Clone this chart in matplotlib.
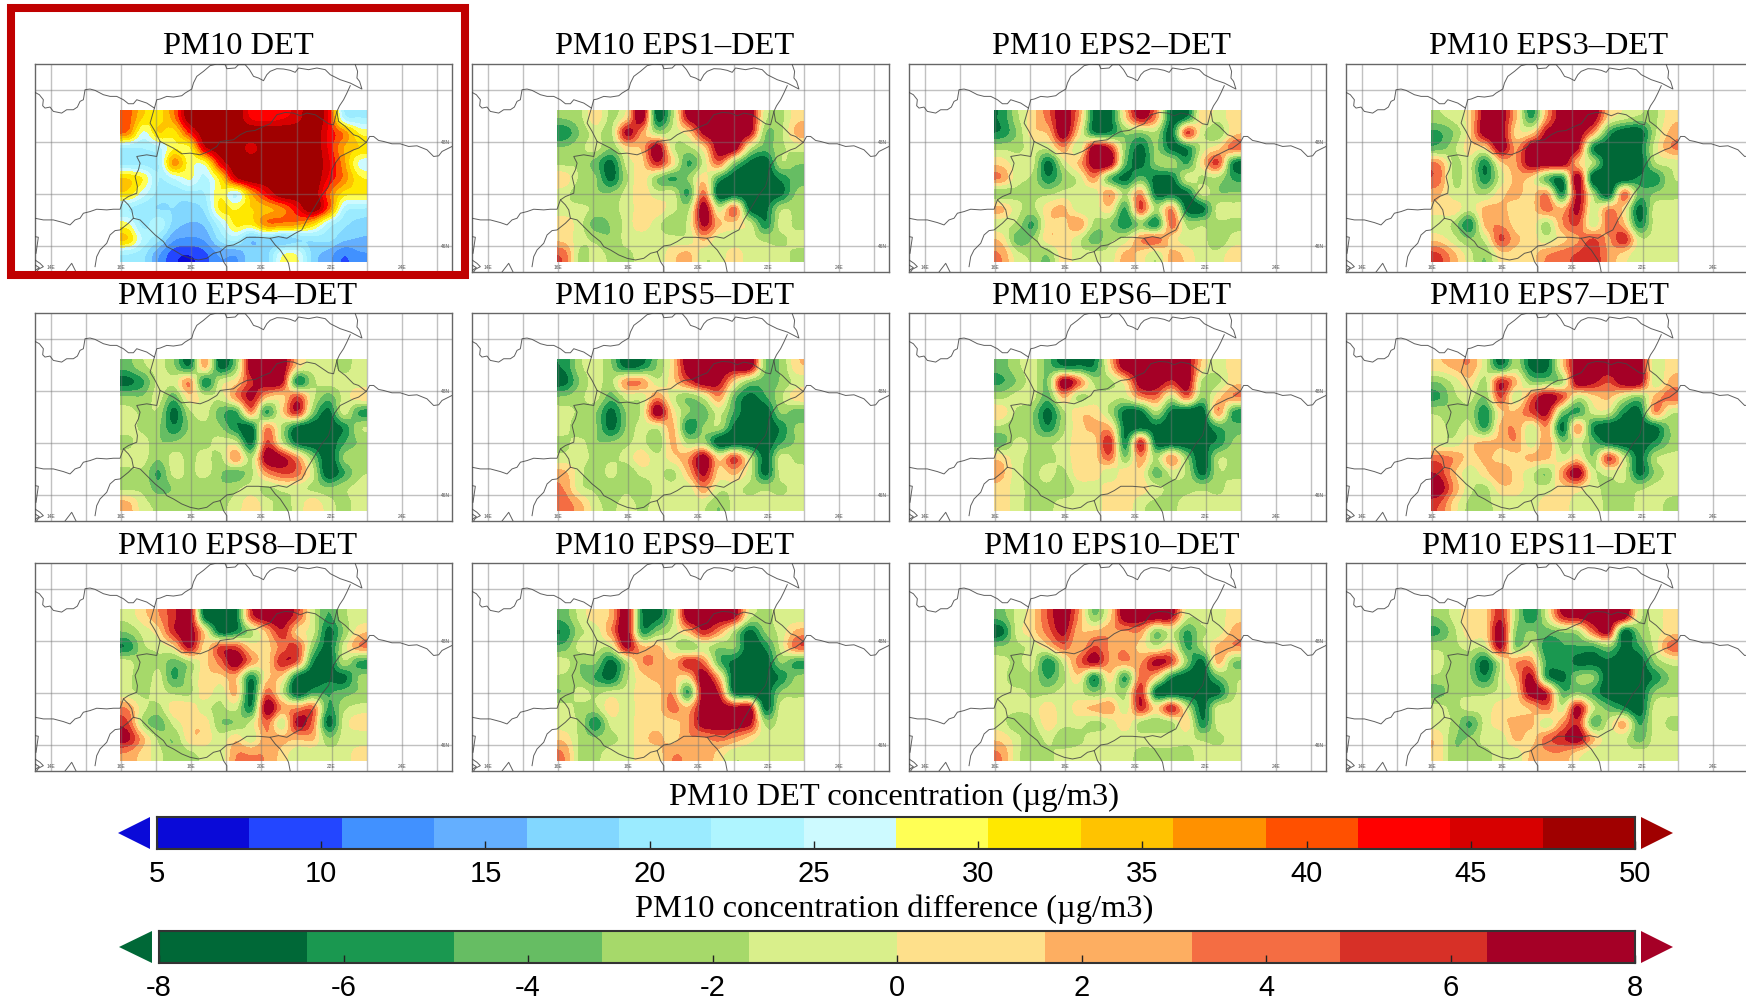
import matplotlib
matplotlib.use("Agg")
import matplotlib.pyplot as plt
import numpy as np
from matplotlib.colors import BoundaryNorm, ListedColormap
from matplotlib.patches import Polygon, Rectangle

plt.rcParams["font.family"] = ["Liberation Serif", "DejaVu Serif"]
plt.rcParams["axes.unicode_minus"] = False

# PM10 DET field, ug/m3, rows north to south
det = [
    [40, 33, 32, 38, 50, 50, 50, 50, 44, 43, 44, 46, 50, 44, 24, 22],
    [38, 27, 33, 32, 42, 50, 50, 50, 50, 50, 50, 50, 50, 44, 38, 30],
    [22, 22, 24, 30, 30, 46, 50, 50, 46, 50, 50, 50, 50, 44, 36, 33],
    [21, 21, 22, 37, 29, 29, 44, 50, 50, 50, 50, 50, 50, 45, 37, 27],
    [33, 30, 22, 25, 28, 24, 32, 46, 50, 50, 50, 50, 50, 44, 38, 31],
    [32, 26, 21, 20, 21, 22, 30, 25, 36, 44, 50, 50, 50, 40, 32, 31],
    [22, 20, 19, 19, 18, 20, 31, 30, 33, 35, 38, 44, 50, 40, 24, 22],
    [28, 21, 24, 18, 16, 17, 24, 31, 31, 38, 38, 37, 33, 24, 20, 18],
    [33, 24, 20, 14, 13, 14, 20, 23, 17, 19, 17, 19, 20, 20, 17, 16],
    [22, 20, 14, 9, 8, 10, 14, 14, 18, 18, 27, 27, 18, 15, 11, 13],
]

# EPS member minus DET, ug/m3
eps1 = [
    [-3, -2, 1, -2, 1, 8, -7, -2, 7, 8, 8, 8, 8, -1, -2, 1],
    [-6, -3, -1, -2, 7, 3, -2, -1, 1, 7, 8, 8, 7, -3, -2, 2],
    [-3, -2, -1, -3, 1, 2, 8, -1, -2, 1, 8, 8, -1, -4, -2, -1],
    [-2, -2, -4, -7, -1, 1, 6, 1, -5, -1, 4, -3, -7, -8, -2, -3],
    [1, -2, -3, -7, -2, 1, -3, -5, -3, 1, -5, -8, -8, -8, -6, -4],
    [-1, -3, -3, -3, -1, 1, -1, -1, -5, 4, -8, -8, -8, -8, -7, -3],
    [-1, -1, -2, -2, -1, 1, 1, -1, -2, 8, -1, 4, -7, -7, -2, -2],
    [1, -1, -4, -3, -1, 1, -1, -3, -1, 7, 2, 1, -1, -6, -1, -2],
    [1, -1, -2, -3, -1, -1, -1, -1, -1, 2, -1, -1, -1, -2, -2, -1],
    [4, -2, -1, -2, -2, -1, -1, 1, 2, -1, -1, 1, -1, -1, -1, -2],
]
eps2 = [
    [-6, -2, 1, 4, 8, 3, -7, -7, 1, 7, 3, -7, -6, 1, -1, 1],
    [-6, -3, 1, 2, 8, 1, -6, -6, -3, -3, -2, -7, 5, -1, -3, 1],
    [-2, -2, -1, -1, 3, -1, 8, 6, -3, -7, -3, -7, -6, -1, 1, 4],
    [1, -1, -1, -7, -1, 2, 8, 8, -4, -7, -3, -2, -5, 1, 5, -6],
    [3, -1, -2, -6, -3, -1, 3, -4, -7, -4, -7, -7, -1, -2, -2, -5],
    [-3, -2, -2, -2, -1, -1, -1, 3, -2, 3, -7, -7, -7, -1, -3, -3],
    [2, -1, -2, 1, 2, -1, -1, 1, -5, 5, -2, 3, -7, -7, -1, -1],
    [-1, -2, -5, 1, 1, 3, -2, -3, -6, -3, -6, 4, -2, -2, -2, -2],
    [1, -4, -3, 1, 1, -1, -4, -2, -1, 3, 4, 1, -1, -1, -3, -1],
    [3, -1, -2, -3, 1, -1, -1, -1, 2, 1, -1, 2, 1, -1, -1, 1],
]
eps3 = [
    [-2, -1, 1, 8, 8, 2, -5, 3, 8, 8, 8, 1, -1, -2, -2, 1],
    [-5, -3, 1, 8, 8, 1, 1, 7, 8, 8, 3, -5, -8, -8, -2, 2],
    [-4, -2, 1, 1, 8, 3, 8, 8, 8, 7, -6, -8, -8, -7, -1, 3],
    [3, -2, -1, -6, 1, 3, 8, 8, 8, 2, -2, -8, -8, -8, -2, -1],
    [4, -2, -1, -6, -1, 2, 1, -4, -6, 8, -8, -8, -8, -6, -6, -2],
    [2, -1, -1, -2, 1, 2, 1, 3, -6, 7, -2, -8, 4, -4, -3, -2],
    [1, 1, -1, 2, 2, 1, 1, 4, 2, 7, -1, 3, 1, -7, -1, -1],
    [-1, -2, -6, 2, 3, 1, 1, -2, 3, 5, -1, 4, 2, -6, -1, -1],
    [1, -1, -3, -1, 5, 2, 1, -1, 1, 3, 5, 3, 6, -1, -1, -1],
    [5, 2, -1, -3, 1, 1, 1, 3, 4, 5, 6, 3, 1, -1, -1, -1],
]
eps4 = [
    [-4, -2, -1, -3, -6, 2, -7, -3, 8, 8, 8, 1, -1, -1, -2, -1],
    [-7, -5, -1, -1, 3, -6, -1, 1, 6, 8, 7, -6, -2, -1, -1, -1],
    [-3, -3, -1, -4, 1, -1, -1, 3, 7, 2, 1, 5, -1, -4, -1, 1],
    [-1, -2, -2, -7, -2, -1, -4, -5, 3, -5, 1, 6, -3, -7, -1, -5],
    [-1, -2, -3, -6, -3, -2, -3, -6, -7, 3, -2, -7, -8, -8, -6, -2],
    [-2, -1, -3, -3, -2, -2, -1, -1, -7, 5, -1, -7, -8, -8, -5, -3],
    [-1, -1, -3, -1, -2, -1, -2, 3, -2, 8, 7, 3, -3, -8, -3, -2],
    [-2, -2, -5, -1, -2, -1, -3, -4, -2, 3, 5, 4, -1, -8, -5, -2],
    [-2, -2, -4, -3, -2, -3, -3, -2, -1, -2, -1, -1, -2, -3, -2, -1],
    [2, -1, -2, -2, -2, -2, -2, -1, 1, -1, -2, -1, 1, -1, -2, -1],
]
eps5 = [
    [-6, -2, -1, -3, -7, -6, -3, 1, 8, 8, 8, 8, 8, -3, -3, 1],
    [-7, -3, -1, -2, 3, 3, -1, 1, 5, 8, 7, 1, -3, -4, -3, -1],
    [-3, -2, -1, -4, -1, -1, 3, -1, -3, -1, 3, -4, -7, -5, -2, 1],
    [-1, -2, -3, -7, -3, -1, 8, 1, -3, -4, -1, -5, -8, -8, -3, -4],
    [-1, -3, -3, -7, -3, -1, -1, 2, -6, -3, -2, -7, -8, -8, -6, -3],
    [-2, -1, -3, -3, -2, -1, -3, 2, -2, -2, -8, -8, -8, -8, -5, -3],
    [-1, -1, -2, -2, -1, 1, -1, 1, 3, 8, 1, 5, -1, -7, -1, -2],
    [2, -1, -3, -1, -3, -1, -1, -2, 2, 7, 1, 2, -1, -7, -1, -1],
    [3, -1, -2, -3, -2, -3, -1, -1, -1, 3, -1, -1, -2, -2, -2, -1],
    [4, 2, -1, -2, -1, -2, -1, -1, -1, -1, -3, -1, -1, -1, -1, -1],
]
eps6 = [
    [-4, -2, -1, -4, -6, -6, -6, 1, 8, 8, 8, 8, 8, 1, -1, 1],
    [-5, -3, -1, -3, 8, 4, -2, -2, 1, 8, 8, 6, 8, -2, -2, 1],
    [-2, -1, -1, -4, 2, -2, -1, -1, -1, 3, 4, -1, 4, -3, 1, 3],
    [1, -2, -3, -7, -2, 1, 1, -2, -7, -7, -2, -7, -8, -8, 3, -5],
    [-2, -3, -3, -6, -2, 1, 2, 2, -7, -7, -7, -8, -8, -8, -5, -4],
    [-4, -1, -2, -2, -1, 1, 1, 6, -6, 6, -7, -8, -8, -7, -6, -3],
    [1, -1, -2, -2, -1, 1, 1, 4, -3, 3, -2, 3, -3, -8, -2, -2],
    [2, -1, -2, -1, -2, 1, 1, -1, 1, 1, -4, -1, -2, -7, -2, -2],
    [1, -1, -2, -2, -3, -1, -1, 1, 1, 1, -1, -2, -2, -2, -2, -1],
    [1, -1, -2, -2, -1, -1, -1, 1, 1, -1, -2, -2, -1, -1, -1, -1],
]
eps7 = [
    [1, 2, 3, -1, -6, -2, -7, -7, 1, 8, 8, 8, 8, 8, -1, 1],
    [-3, -1, 1, -2, 6, 2, -3, -3, -2, 8, 7, 5, 8, 8, -1, 2],
    [-5, -2, -1, -3, 5, -1, 4, 8, 5, -1, 1, 2, -1, -3, 2, 4],
    [-2, -3, -2, -6, 1, 2, 5, 7, -3, -5, -1, -1, -6, -7, 3, -1],
    [-1, -2, -1, -5, 2, 3, -1, 3, -7, 3, -6, -8, -8, -8, -7, -3],
    [-1, -1, 1, 2, 2, 3, -1, 3, -3, -1, -4, -7, -8, -8, -6, -3],
    [4, 3, 1, 2, 1, 1, 2, 2, -1, 1, -3, 5, -1, -7, -2, -1],
    [6, 2, -1, 1, 3, 1, -1, -3, 3, 8, -1, -1, -1, -7, -3, -1],
    [8, 3, -1, -2, 1, 1, -1, -1, 1, 1, -1, -2, -2, -2, -1, -1],
    [5, 1, -2, -2, -1, -1, -1, 1, 1, -1, -1, -2, -3, -1, -1, -2],
]
eps8 = [
    [-1, 1, 3, 6, 8, -7, -8, -7, 5, 8, 8, 5, -1, -5, -2, -1],
    [-3, -1, 1, 6, 8, 1, -7, -6, -2, 2, 6, 1, -1, -7, -3, 1],
    [-6, -2, -1, 1, 7, 1, 5, 5, 1, 1, 4, 5, -3, -7, -1, 3],
    [-1, -3, -2, -4, -2, 1, 4, 8, 3, 1, 6, 4, -6, -8, -2, -5],
    [-1, -3, -1, -5, -2, 1, 1, 2, -6, 1, 1, -7, -8, -7, -7, -3],
    [-1, -2, -1, -2, -2, 1, -1, 2, -7, 4, -1, -8, -5, -5, -4, -3],
    [3, -1, -2, 1, 1, -1, -2, -1, -6, 8, 3, 3, 4, -5, -2, -1],
    [5, -2, -4, -1, 1, 1, -3, -3, -1, 4, -1, 7, 4, -7, -1, 1],
    [7, 2, -2, -3, 1, 1, -1, 1, -1, 3, 2, 2, 2, -3, -1, -1],
    [3, 1, -1, -3, -2, -1, -1, 3, 3, 3, 1, -1, -1, -1, -1, 1],
]
eps9 = [
    [-4, -1, 1, 2, 8, -6, -7, -2, 8, 8, 8, 7, -1, -2, -1, -1],
    [-6, -2, -1, 3, 8, -5, -3, -1, 2, 6, 3, -2, -7, -3, -1, 2],
    [-4, -1, -1, -1, 7, 2, 2, -1, -3, -1, -3, -3, -8, -6, -1, 4],
    [-1, -3, -3, -7, -2, 3, 3, 2, 6, 4, -4, -7, -8, -8, -3, -5],
    [-2, -3, -5, -7, -2, 1, 2, 2, 1, 8, 2, -8, -8, -8, -6, -3],
    [-3, -1, -2, -1, -1, 1, 1, 3, -5, 8, 6, -7, -8, -8, -3, -2],
    [-1, -2, -2, 1, -1, 1, 1, 4, 2, 8, 8, 7, 7, -7, -1, -1],
    [-1, -2, -6, -1, -1, 1, 1, 1, 3, 8, 8, 8, 7, -2, -1, -1],
    [1, -2, -3, -2, -1, 1, 2, 1, 3, 3, 4, 3, 1, -1, -1, -1],
    [3, -2, -2, -1, -1, 1, 1, 3, 3, 3, 1, -1, -1, -1, -1, -1],
]
eps10 = [
    [-4, -1, 1, 5, 8, 3, -3, 1, 8, 8, 8, 7, -1, -1, -1, 1],
    [-7, -1, 1, 4, 7, 2, 2, 3, 3, 3, -3, -1, -5, -2, -1, 2],
    [-3, -2, -1, 1, 4, 2, 5, 3, 3, 1, -1, 1, -5, -2, 2, 3],
    [-1, -2, -1, -6, -1, 4, 7, 3, 3, 3, 7, 5, -3, -7, 2, -3],
    [-1, -3, -2, -5, -2, 1, -6, 1, -5, 4, 1, -6, -8, -8, -4, -2],
    [-1, -1, -2, -2, -1, -1, -3, -1, -2, 6, -7, -8, -8, -7, -7, -2],
    [-1, -1, -1, 1, -1, 1, 2, 3, -1, 6, 1, 6, -1, -7, -1, -1],
    [-1, -3, -2, 1, -1, -1, -2, -1, 1, -2, -3, -2, 1, -6, -1, -1],
    [1, -1, -3, -1, -3, -2, -1, -1, -1, -1, -1, -1, -1, -2, -2, -1],
    [3, -1, -3, -2, -1, -1, -1, -1, -1, -2, -2, -2, -2, -1, -1, -1],
]
eps11 = [
    [-3, -1, 1, 1, 6, -2, -6, -1, 6, 7, 8, 8, 8, -1, -1, 1],
    [-5, -2, 1, 1, 8, -3, -3, -4, -3, -2, 4, 7, -7, -3, -1, 1],
    [-2, -2, -1, -1, 7, -3, -1, -6, -5, -5, -5, -3, -7, -5, -1, 4],
    [-1, -3, -3, -7, -1, 3, 3, -5, -5, -7, -7, -7, -8, -8, -3, -1],
    [-2, -3, -3, -6, -1, 2, 7, -5, -7, -3, -3, -8, -8, -8, -6, -3],
    [-4, -2, -2, -2, -1, 1, 8, 6, -4, -3, -5, -8, -8, -8, -3, -2],
    [-1, -2, -1, -1, 1, 1, 2, 4, -1, 7, -1, -4, -6, -8, -1, -1],
    [-1, -2, -5, -1, 1, 2, 2, -1, 3, 6, -4, -1, 2, -5, -1, -2],
    [1, -3, -3, -1, -1, 2, 1, 4, 6, 8, 2, -1, -1, -4, -1, -1],
    [1, -3, -2, -2, -1, -1, 2, 3, 3, 1, -1, -1, -1, -1, -1, -1],
]

titles = ["PM10 DET", "PM10 EPS1–DET", "PM10 EPS2–DET", "PM10 EPS3–DET",
          "PM10 EPS4–DET", "PM10 EPS5–DET", "PM10 EPS6–DET", "PM10 EPS7–DET",
          "PM10 EPS8–DET", "PM10 EPS9–DET", "PM10 EPS10–DET", "PM10 EPS11–DET"]
fields = [det, eps1, eps2, eps3, eps4, eps5, eps6, eps7, eps8, eps9, eps10, eps11]

det_levels = np.linspace(5, 50, 17)
diff_levels = np.linspace(-8, 8, 11)
det_colors = ["#0a0ad8", "#2346ff", "#4191ff", "#64afff", "#82d7ff", "#9bebff",
              "#aff5ff", "#cdfaff", "#ffff55", "#ffe800", "#ffc300", "#ff9100",
              "#ff5000", "#ff0000", "#d70000", "#a00000"]
diff_colors = ["#006837", "#1a9850", "#66bd63", "#a6d96a", "#d9ef8b",
               "#fee08b", "#fdae61", "#f46d43", "#d73027", "#a50026"]
det_ticks = [5, 10, 15, 20, 25, 30, 35, 40, 45, 50]
diff_ticks = [-8, -6, -4, -2, 0, 2, 4, 6, 8]

# map outlines, in the coordinates of one panel
borders = [
    [(105, 278), (118, 285), (130, 300), (128, 318), (135, 325), (150, 322), (160, 335), (185, 340),
     (200, 330), (220, 330), (232, 322), (240, 305), (250, 300), (255, 270), (270, 268), (285, 272),
     (310, 285), (330, 290), (350, 290), (370, 300), (385, 312), (400, 312), (410, 300), (440, 310),
     (463, 325), (470, 300), (480, 298), (500, 290), (520, 292), (545, 288), (555, 280), (575, 268),
     (580, 250), (590, 230), (610, 215), (630, 198), (650, 193), (675, 195), (680, 207), (705, 205),
     (715, 195), (735, 195), (748, 210), (760, 230), (775, 235), (790, 243), (800, 225), (810, 215),
     (830, 207), (850, 208), (870, 212), (885, 218), (895, 205), (925, 210), (950, 205), (975, 210),
     (990, 225), (1000, 230), (1020, 240), (1050, 250), (1085, 268), (1078, 245), (1070, 235), (1072, 215), (1065, 195)],
    [(1050, 258), (1040, 280), (1030, 300), (1018, 318), (1010, 335), (1015, 365), (1035, 380), (1050, 395),
     (1060, 405), (1075, 410), (1098, 428), (1108, 410), (1120, 410), (1135, 422), (1150, 425), (1175, 432),
     (1200, 432), (1225, 440), (1250, 438), (1280, 450), (1300, 470), (1315, 468), (1325, 455), (1355, 440)],
    [(463, 325), (450, 370), (465, 395), (480, 425), (500, 435), (520, 445), (545, 462), (570, 460), (600, 465),
     (625, 455), (650, 440), (660, 425), (700, 420), (720, 405), (740, 395), (765, 392), (790, 380), (810, 372),
     (830, 345), (855, 338), (880, 340), (900, 348), (920, 340), (945, 345), (960, 355), (985, 372), (1000, 375), (1010, 335)],
    [(1098, 428), (1075, 445), (1060, 450), (1040, 460), (1020, 470), (1005, 490), (995, 510), (992, 535),
     (985, 560), (965, 585), (950, 610), (935, 635), (920, 660), (905, 690), (885, 700), (860, 715), (835, 710),
     (810, 715), (775, 712), (740, 712), (720, 725), (700, 735), (680, 738), (660, 755), (640, 760), (620, 775),
     (595, 780), (570, 775), (545, 765), (520, 750), (500, 740), (490, 725), (465, 705), (440, 680), (420, 660),
     (400, 655), (385, 670), (360, 690), (345, 692), (330, 705), (320, 730), (300, 750), (290, 770), (285, 800)],
    [(480, 425), (470, 470), (440, 465), (410, 470), (420, 490), (415, 510), (405, 530), (412, 560), (410, 580),
     (385, 590), (370, 600), (385, 615), (395, 630), (400, 655)],
    [(370, 600), (360, 628), (340, 628), (320, 630), (290, 628), (270, 635), (250, 640), (240, 655), (225, 660),
     (210, 675), (190, 668), (160, 660), (130, 660), (105, 655)],
    [(660, 755), (670, 785), (680, 800), (680, 816)],
    [(810, 715), (825, 735), (840, 750), (860, 780), (865, 790), (870, 816)],
    [(105, 780), (120, 790), (130, 800), (115, 808), (110, 816)],
    [(105, 795), (118, 803), (105, 812)],
    [(195, 816), (215, 790), (228, 816)],
    [(105, 710), (115, 712), (108, 760)],
]
grid_x = [152, 257, 362, 467, 572, 677, 783, 889, 994, 1099, 1205, 1310]
grid_y = [270, 427, 582, 738]
lon_ticks = [152, 362, 572, 783, 994, 1205]
lon_labels = ["14E", "16E", "18E", "20E", "22E", "24E"]
lat_ticks = [428, 740]
lat_labels = ["48N", "46N"]

W, H = 1746, 1001
fig = plt.figure(figsize=(W / 100, H / 100), dpi=100)


def px_axes(left, top, right, bottom):
    return fig.add_axes([left / W, 1 - bottom / H, (right - left) / W, (bottom - top) / H])


panel_left = [35, 472, 909, 1346]
panel_top = [64, 313, 563]
title_y = [47, 297, 547]
det_cmap = ListedColormap(det_colors)
diff_cmap = ListedColormap(diff_colors)

overlay = fig.add_axes([0, 0, 1, 1], zorder=10)
overlay.set_xlim(0, W)
overlay.set_ylim(H, 0)
overlay.axis("off")

for i, field in enumerate(fields):
    row, col = divmod(i, 4)
    left = panel_left[col]
    top = panel_top[row]
    ax = px_axes(left, top, left + 417, top + 208)
    if i == 0:
        cmap, levels = det_cmap, det_levels
    else:
        cmap, levels = diff_cmap, diff_levels
    ax.imshow(np.array(field, dtype=float), extent=(360, 1098, 785, 332), aspect="auto",
              cmap=cmap, norm=BoundaryNorm(levels, cmap.N, clip=True),
              interpolation="catrom", interpolation_stage="data", zorder=1)
    for x in grid_x:
        ax.axvline(x, color="#777777", alpha=0.45, lw=1.0, zorder=2)
    for y in grid_y:
        ax.axhline(y, color="#777777", alpha=0.45, lw=1.0, zorder=2)
    for line in borders:
        xs, ys = zip(*line)
        ax.plot(xs, ys, color="#444444", lw=0.7, alpha=0.85, zorder=3)
    for x, label in zip(lon_ticks, lon_labels):
        ax.text(x, 802, label, fontsize=3.5, color="#555555", ha="center", va="center",
                family=["Liberation Sans"])
    # the last column runs off the page, its latitude labels with it
    if col < 3:
        for y, label in zip(lat_ticks, lat_labels):
            ax.text(1335, y, label, fontsize=3.5, color="#555555", ha="center", va="center",
                    family=["Liberation Sans"])
    ax.set_xlim(105, 1355)
    ax.set_ylim(816, 193)
    ax.set_xticks([])
    ax.set_yticks([])
    for spine in ax.spines.values():
        spine.set_color("#666666")
        spine.set_linewidth(1.0)
    overlay.text(left + 203, title_y[row], titles[i], fontsize=23.4, color="black",
                 ha="center", va="center")

# frame round the DET panel
overlay.add_patch(Rectangle((11, 8), 454, 267, fill=False, edgecolor="#c00000", lw=5.8))


def draw_bar(left, top, bottom, levels, colors, ticks, tip_left, base_left):
    right = 1635
    ax = px_axes(left, top, right, bottom)
    cmap = ListedColormap(colors)
    ax.pcolormesh(levels, [0, 1], np.array([(levels[:-1] + levels[1:]) / 2]), cmap=cmap,
                  norm=BoundaryNorm(levels, cmap.N))
    ax.set_xlim(levels[0], levels[-1])
    ax.set_ylim(0, 1)
    ax.set_yticks([])
    ax.set_xticks(ticks)
    ax.tick_params(axis="x", direction="in", length=6, width=1.0, color="#222222",
                   labelsize=21, pad=8)
    for label in ax.get_xticklabels():
        label.set_family(["Liberation Sans"])
    for spine in ax.spines.values():
        spine.set_color("#333333")
        spine.set_linewidth(1.5)
    mid = (top + bottom) / 2
    overlay.add_patch(Polygon([(tip_left, mid), (base_left, top), (base_left, bottom)],
                              facecolor=colors[0], edgecolor="none"))
    overlay.add_patch(Polygon([(1673, mid), (1641, top), (1641, bottom)],
                              facecolor=colors[-1], edgecolor="none"))


draw_bar(157, 817, 849, det_levels, det_colors, det_ticks, 118, 150)
draw_bar(159, 931, 963, diff_levels, diff_colors, diff_ticks, 119, 152)

overlay.text(894, 797, "PM10 DET concentration (µg/m3)", fontsize=23.4, ha="center", va="center")
overlay.text(894, 909, "PM10 concentration difference (µg/m3)", fontsize=23.4, ha="center", va="center")

fig.savefig("out.png", dpi=100)
